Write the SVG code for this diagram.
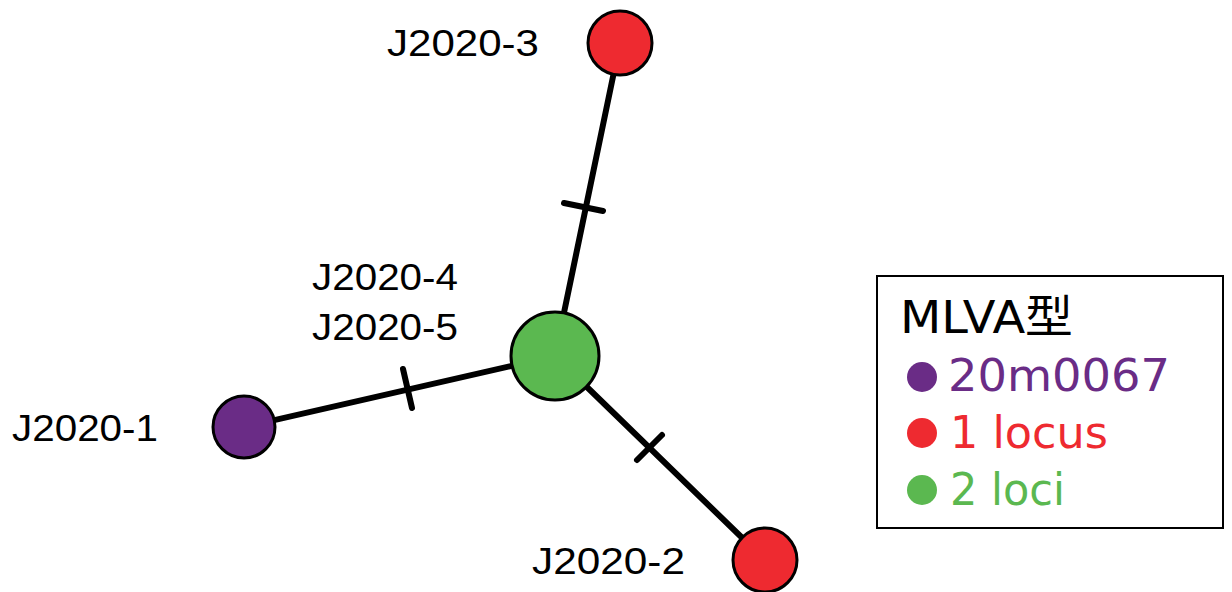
<svg xmlns="http://www.w3.org/2000/svg" width="1232" height="592" viewBox="0 0 1232 592">
  <style>
    .edge { stroke: #000; stroke-width: 6; stroke-linecap: round; fill: none; }
    .tick { stroke: #000; stroke-width: 6; stroke-linecap: round; }
    .node { stroke: #000; stroke-width: 3; }
    .label { font-family: "Liberation Sans", Arial, sans-serif; font-size: 36px; fill: #000; }
    .leg { font-family: "DejaVu Sans", "Noto Sans CJK JP", sans-serif; font-size: 45px; }
    .purple { fill: #6a2c86; }
    .red { fill: #ee2a30; }
    .green { fill: #5bb850; }
  </style>
  <rect width="1232" height="592" fill="#fff"/>

  <!-- connectors with mutation ticks -->
  <g id="connectors">
    <line class="edge" x1="555" y1="356" x2="244" y2="427"/>
    <line class="edge" x1="555" y1="356" x2="620" y2="43"/>
    <line class="edge" x1="555" y1="356" x2="765" y2="560"/>
    <line class="tick" x1="403" y1="369" x2="412" y2="408"/>
    <line class="tick" x1="564" y1="203" x2="603" y2="211"/>
    <line class="tick" x1="637" y1="460" x2="662" y2="435"/>
  </g>

  <g id="node-center">
    <circle class="node green" cx="555" cy="356" r="44"/>
    <text class="label" x="312" y="290" textLength="146" lengthAdjust="spacingAndGlyphs">J2020-4</text>
    <text class="label" x="312" y="340" textLength="146" lengthAdjust="spacingAndGlyphs">J2020-5</text>
  </g>

  <g id="node-j2020-1">
    <circle class="node purple" cx="244" cy="427" r="31"/>
    <text class="label" x="12" y="441" textLength="146" lengthAdjust="spacingAndGlyphs">J2020-1</text>
  </g>

  <g id="node-j2020-3">
    <circle class="node red" cx="620" cy="43" r="32"/>
    <text class="label" x="387" y="56" textLength="152" lengthAdjust="spacingAndGlyphs">J2020-3</text>
  </g>

  <g id="node-j2020-2">
    <circle class="node red" cx="765" cy="560" r="32"/>
    <text class="label" x="532" y="574" textLength="153" lengthAdjust="spacingAndGlyphs">J2020-2</text>
  </g>

  <!-- legend -->
  <g id="legend">
    <rect x="877" y="276" width="346" height="252" fill="#fff" stroke="#000" stroke-width="2"/>
    <text class="leg" x="900" y="333" font-size="42" fill="#000" textLength="173" lengthAdjust="spacingAndGlyphs">MLVA型</text>
    <circle class="purple" cx="922" cy="377" r="15"/>
    <text class="leg purple" x="948" y="391" textLength="222" lengthAdjust="spacingAndGlyphs">20m0067</text>
    <circle class="red" cx="922" cy="433" r="15"/>
    <text class="leg red" x="950" y="448" textLength="158" lengthAdjust="spacingAndGlyphs">1 locus</text>
    <circle class="green" cx="922" cy="490" r="15"/>
    <text class="leg green" x="950" y="505" textLength="115" lengthAdjust="spacingAndGlyphs">2 loci</text>
  </g>
</svg>
